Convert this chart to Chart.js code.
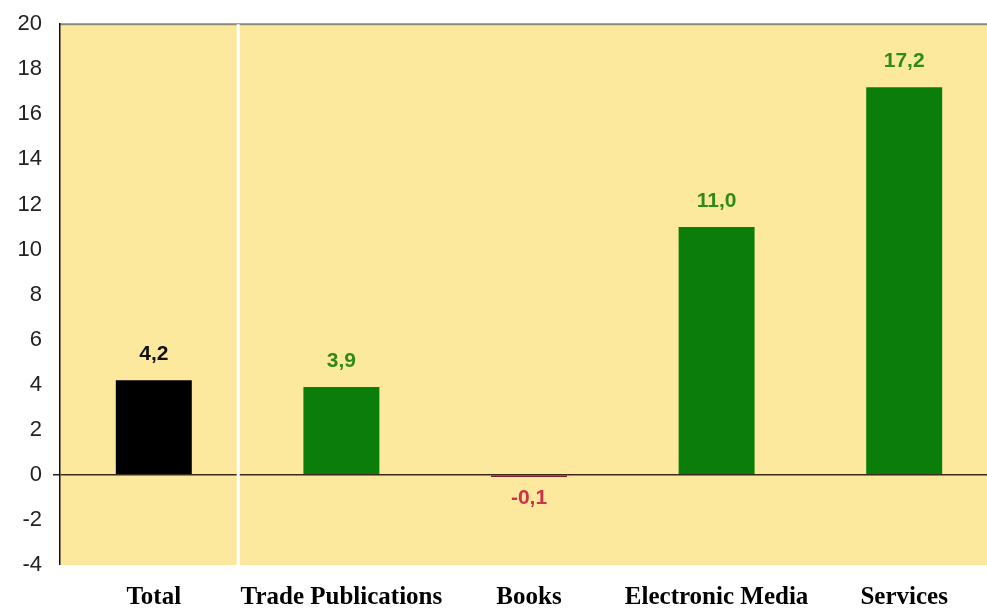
<!DOCTYPE html>
<html>
<head>
<meta charset="utf-8">
<script src="https://cdn.jsdelivr.net/npm/chart.js@4"></script>
<style>
  html, body { margin: 0; padding: 0; background: #ffffff; }
  #wrap { width: 987px; height: 608px; overflow: hidden; }
  #canvas { display: block; }
</style>
</head>
<body>
<div id="wrap"><canvas id="canvas" width="998" height="608"></canvas></div>
<script>
const categories = ['Total', 'Trade Publications', 'Books', 'Electronic Media', 'Services']
const growth = [4.2, 3.9, -0.1, 11.0, 17.2]
const labels = ['4,2', '3,9', '-0,1', '11,0', '17,2']
const yTicks = [-4, -2, 0, 2, 4, 6, 8, 10, 12, 14, 16, 18, 20]

const barColors = ['#000000', '#0a7d0a', '#8a1c22', '#0a7d0a', '#0a7d0a']
const labelColors = ['#111111', '#2f8a1c', '#d03048', '#2f8a1c', '#2f8a1c']

// yellow plot background, white divider after "Total", value labels
const decor = {
  id: 'decor',
  beforeDraw(chart) {
    const { ctx, chartArea: a } = chart
    ctx.save()
    ctx.fillStyle = '#fde99e'
    ctx.fillRect(a.left, a.top, a.right - a.left, a.bottom - a.top)
    ctx.strokeStyle = '#8a8a7a'
    ctx.lineWidth = 2
    ctx.beginPath()
    ctx.moveTo(a.left, a.top)
    ctx.lineTo(a.right, a.top)
    ctx.stroke()
    ctx.restore()
  },
  afterDatasetsDraw(chart) {
    const { ctx, chartArea: a, scales } = chart
    const x0 = scales.x.getPixelForValue(0)
    const x1 = scales.x.getPixelForValue(1)
    const sx = x0 + (x1 - x0) * 0.45
    ctx.save()
    ctx.strokeStyle = '#ffffff'
    ctx.lineWidth = 3
    ctx.beginPath()
    ctx.moveTo(sx, a.top)
    ctx.lineTo(sx, a.bottom)
    ctx.stroke()

    ctx.font = 'bold 21px "Liberation Sans", Arial, sans-serif'
    ctx.textAlign = 'center'
    ctx.textBaseline = 'middle'
    chart.getDatasetMeta(0).data.forEach((bar, i) => {
      const v = growth[i]
      const y = v >= 0 ? scales.y.getPixelForValue(v) - 26 : scales.y.getPixelForValue(v) + 21
      ctx.fillStyle = labelColors[i]
      ctx.fillText(labels[i], bar.x, y)
    })
    ctx.restore()
  }
}

const ctx = document.querySelector('#canvas').getContext('2d')

const config = {
  type: 'bar',
  data: {
    labels: categories,
    datasets: [{
      data: growth,
      backgroundColor: barColors,
      borderWidth: 0,
      categoryPercentage: 1,
      barPercentage: 0.405
    }]
  },
  options: {
    responsive: false,
    animation: false,
    layout: { padding: { top: 23, right: 0, left: 0, bottom: 0 } },
    plugins: {
      legend: { display: false },
      tooltip: { enabled: false }
    },
    scales: {
      x: {
        grid: { display: false, drawTicks: false },
        border: { display: false },
        ticks: {
          color: '#000000',
          padding: 18,
          maxRotation: 0,
          autoSkip: false,
          font: { family: '"Liberation Serif", "Times New Roman", serif', size: 25, weight: 'bold' }
        },
        afterFit(scale) { scale.height = 43 }
      },
      y: {
        min: -4,
        max: 20,
        afterBuildTicks(scale) { scale.ticks = yTicks.map(v => ({ value: v })) },
        grid: {
          drawOnChartArea: true,
          tickLength: 7,
          tickColor: '#222222',
          color: c => (c.tick && c.tick.value === 0 ? '#3a2a1a' : 'rgba(0,0,0,0)'),
          lineWidth: c => (c.tick && c.tick.value === 0 ? 1.5 : 0)
        },
        border: { display: true, color: '#111111', width: 1.5 },
        ticks: {
          color: '#222222',
          padding: 11,
          font: { family: '"Liberation Sans", Arial, sans-serif', size: 22 }
        },
        afterFit(scale) { scale.width = 60 }
      }
    }
  },
  plugins: [decor]
}

const myChart = new Chart(ctx, config)
</script>
</body>
</html>
